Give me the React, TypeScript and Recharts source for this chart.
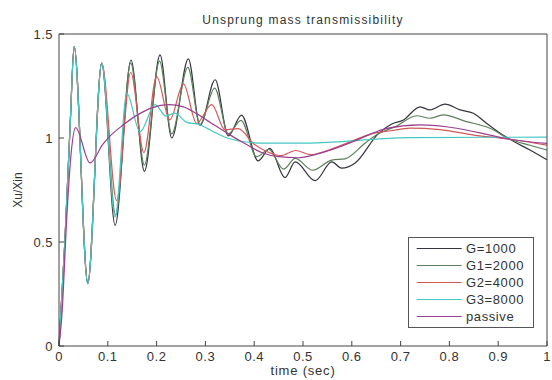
import { LineChart, Line, XAxis, YAxis, Legend } from 'recharts';

const FONT = '"Liberation Sans", Arial, sans-serif';

const X_TICKS = [0, 0.1, 0.2, 0.3, 0.4, 0.5, 0.6, 0.7, 0.8, 0.9, 1];
const Y_TICKS = [0, 0.5, 1, 1.5];

// [time (sec), Xu/Xin]
const G1000: [number, number][] = [
  [0, 0], [0.012, 0.5], [0.023, 1.07], [0.031, 1.44], [0.059, 0.3], [0.0875, 1.36],
  [0.115, 0.58], [0.1475, 1.375], [0.175, 0.84], [0.207, 1.4], [0.231, 1.0],
  [0.265, 1.38], [0.289, 1.06], [0.32, 1.28], [0.347, 1.01], [0.374, 1.11],
  [0.408, 0.89], [0.432, 0.95], [0.463, 0.81], [0.484, 0.885], [0.525, 0.795],
  [0.559, 0.885], [0.579, 0.855], [0.607, 0.88], [0.654, 1.02], [0.68, 1.065],
  [0.706, 1.087], [0.74, 1.15], [0.76, 1.135], [0.791, 1.163], [0.822, 1.135],
  [0.849, 1.119], [0.876, 1.071], [0.904, 1.023], [0.924, 0.994], [0.965, 0.942],
  [1.0, 0.895],
];

const G2000: [number, number][] = [
  [0, 0], [0.012, 0.5], [0.023, 1.07], [0.031, 1.44], [0.059, 0.3], [0.0875, 1.36],
  [0.116, 0.63], [0.147, 1.36], [0.175, 0.87], [0.206, 1.37], [0.231, 1.02],
  [0.264, 1.34], [0.289, 1.065], [0.319, 1.24], [0.347, 1.02], [0.373, 1.085],
  [0.405, 0.91], [0.43, 0.945], [0.46, 0.85], [0.484, 0.902], [0.52, 0.845],
  [0.559, 0.894], [0.586, 0.9], [0.627, 0.975], [0.654, 1.02], [0.69, 1.055],
  [0.733, 1.107], [0.76, 1.095], [0.787, 1.111], [0.835, 1.079], [0.883, 1.047],
  [0.924, 0.994], [0.965, 0.965], [1.0, 0.942],
];

const G4000: [number, number][] = [
  [0, 0], [0.012, 0.5], [0.023, 1.07], [0.031, 1.44], [0.059, 0.31], [0.0875, 1.36],
  [0.118, 0.7], [0.147, 1.315], [0.174, 0.93], [0.2, 1.295], [0.227, 1.087],
  [0.255, 1.26], [0.282, 1.07], [0.313, 1.16], [0.34, 1.04], [0.367, 1.045],
  [0.4, 0.97], [0.43, 0.93], [0.455, 0.915], [0.485, 0.94], [0.515, 0.92],
  [0.55, 0.94], [0.6, 0.985], [0.64, 1.02], [0.68, 1.035], [0.72, 1.047],
  [0.78, 1.04], [0.85, 1.014], [0.924, 0.994], [1.0, 0.966],
];

const G8000: [number, number][] = [
  [0, 0], [0.012, 0.5], [0.023, 1.07], [0.031, 1.44], [0.059, 0.3], [0.0875, 1.36],
  [0.115, 0.62], [0.139, 1.215], [0.166, 1.03], [0.197, 1.16], [0.219, 1.105],
  [0.237, 1.12], [0.262, 1.075], [0.287, 1.065], [0.309, 1.04], [0.345, 1.0],
  [0.38, 0.982], [0.42, 0.975], [0.5, 0.975], [0.58, 0.983], [0.65, 0.995],
  [0.72, 1.002], [1.0, 1.004],
];

const PASSIVE: [number, number][] = [
  [0, 0], [0.006, 0.15], [0.016, 0.62], [0.025, 0.93], [0.034, 1.05], [0.0635, 0.88],
  [0.09, 0.97], [0.105, 1.01], [0.13, 1.06], [0.16, 1.11], [0.19, 1.145],
  [0.225, 1.16], [0.255, 1.15], [0.28, 1.12], [0.31, 1.075], [0.35, 1.015],
  [0.38, 0.975], [0.415, 0.93], [0.45, 0.91], [0.49, 0.905], [0.525, 0.92],
  [0.56, 0.945], [0.6, 0.98], [0.635, 1.015], [0.67, 1.045], [0.74, 1.063],
  [0.815, 1.047], [0.883, 1.014], [0.924, 0.994], [1.0, 0.974],
];

const SERIES = [
  { name: 'G=1000', color: '#34353f', points: G1000 },
  { name: 'G1=2000', color: '#5b805b', points: G2000 },
  { name: 'G2=4000', color: '#d4585a', points: G4000 },
  { name: 'G3=8000', color: '#45c8c2', points: G8000 },
  { name: 'passive', color: '#9b3f8f', points: PASSIVE },
];

const toPts = (arr: [number, number][]) => arr.map(([t, y]) => ({ t, y }));

function LegendBox() {
  return (
    <div
      style={{
        position: 'relative',
        width: 126,
        height: 91,
        border: '1px solid #555',
        boxSizing: 'border-box',
        background: '#fff',
        fontFamily: FONT,
        fontSize: 13,
        color: '#333',
      }}
    >
      {SERIES.map((s, i) => (
        <div
          key={s.name}
          style={{
            position: 'absolute',
            left: 0,
            top: 1.8 + i * 17.1,
            height: 17,
            display: 'flex',
            alignItems: 'center',
            whiteSpace: 'nowrap',
          }}
        >
          <svg width={55} height={17}>
            <line x1={7.7} x2={52.7} y1={8.5} y2={8.5} stroke={s.color} strokeWidth={1.2} />
          </svg>
          <span style={{ marginLeft: 2, letterSpacing: 0.6 }}>{s.name}</span>
        </div>
      ))}
    </div>
  );
}

const tickStyle = { fill: '#333', fontSize: 13, fontFamily: FONT, style: { letterSpacing: 0.5 } };

export default function App() {
  return (
    <div style={{ position: 'absolute', left: 0, top: 0, background: '#fff' }}>
      <LineChart
        width={552}
        height={380}
        margin={{ top: 33, right: 4, bottom: 0, left: 0 }}
        style={{ fontFamily: FONT }}
      >
        <XAxis
          dataKey="t"
          type="number"
          domain={[0, 1]}
          ticks={X_TICKS}
          interval={0}
          height={34}
          tickSize={-5}
          tickMargin={11}
          stroke="#444"
          tick={tickStyle}
          label={{
            value: 'time (sec)',
            position: 'insideBottom',
            offset: 5,
            fill: '#333',
            fontSize: 13,
            style: { letterSpacing: 0.8 },
          }}
        />
        <XAxis
          xAxisId="top"
          orientation="top"
          type="number"
          domain={[0, 1]}
          ticks={X_TICKS}
          interval={0}
          height={1}
          tickSize={-5}
          tick={false}
          stroke="#444"
          label={{
            value: 'Unsprung mass transmissibility',
            position: 'top',
            offset: 9,
            fill: '#333',
            fontSize: 12,
            style: { letterSpacing: 1.2 },
          }}
        />
        <YAxis
          type="number"
          domain={[0, 1.5]}
          ticks={Y_TICKS}
          interval={0}
          width={59}
          tickSize={-5}
          tickMargin={11}
          stroke="#444"
          tick={tickStyle}
          label={{
            value: 'Xu/Xin',
            angle: -90,
            position: 'insideLeft',
            offset: 18,
            fill: '#333',
            fontSize: 12,
            style: { textAnchor: 'middle' },
          }}
        />
        <YAxis
          yAxisId="r"
          orientation="right"
          type="number"
          domain={[0, 1.5]}
          ticks={Y_TICKS}
          interval={0}
          width={1}
          tickSize={-5}
          tick={false}
          stroke="#444"
        />
        {SERIES.map((s) => (
          <Line
            key={s.name}
            data={toPts(s.points)}
            dataKey="y"
            name={s.name}
            type="monotone"
            stroke={s.color}
            strokeWidth={1.2}
            dot={false}
            isAnimationActive={false}
          />
        ))}
        <Legend
          layout="vertical"
          align="center"
          verticalAlign="middle"
          content={() => <LegendBox />}
          wrapperStyle={{ left: 408, top: 237, width: 126, height: 91, margin: 0 }}
        />
      </LineChart>
    </div>
  );
}
